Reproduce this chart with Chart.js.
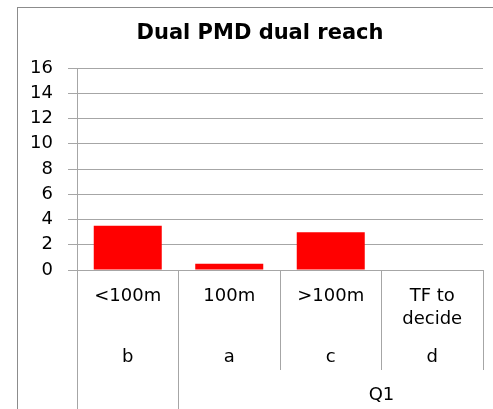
<!DOCTYPE html>
<html>
<head>
<meta charset="utf-8">
<script src="https://cdn.jsdelivr.net/npm/chart.js@4"></script>
<style>
  html, body { margin: 0; padding: 0; background: #fff; }
  #wrap { width: 493px; height: 409px; }
</style>
</head>
<body>
<div id="wrap"><canvas id="chart"></canvas></div>
<script>
// chart data
const categories = ['<100m', '100m', '>100m', ['TF to', 'decide']];
const subLabels = ['b', 'a', 'c', 'd'];
const groupLabel = 'Q1';
const values = [3.5, 0.5, 3, 0];
const yMax = 16;
const yStep = 2;
const titleText = 'Dual PMD dual reach';

const FONT = '"DejaVu Sans", Verdana, sans-serif';
const GRID = '#a6a6a6';

// draws the title, frame and the multi level category labels
const excelAxis = {
  id: 'excelAxis',
  afterDraw(chart) {
    const ctx = chart.ctx;
    const x = chart.scales.x;
    const area = chart.chartArea;
    const w = (area.right - area.left) / categories.length;

    ctx.save();
    // frame (left + top)
    ctx.fillStyle = '#8c8c8c';
    ctx.fillRect(17, 7, 1, chart.height - 7);
    ctx.fillRect(17, 7, chart.width - 17, 1);

    // long dividers under the first two categories
    ctx.fillStyle = GRID;
    [0, 1].forEach(i => {
      const px = Math.round(x.getPixelForValue(i) - w / 2 - 0.5);
      ctx.fillRect(px, area.bottom + 100, 1, chart.height - area.bottom - 100);
    });

    // title
    ctx.fillStyle = '#000';
    ctx.font = 'bold 21px ' + FONT;
    ctx.textAlign = 'center';
    ctx.textBaseline = 'middle';
    ctx.fillText(titleText, 260, 34);

    // category labels
    ctx.font = '18px ' + FONT;
    categories.forEach((lab, i) => {
      const cx = x.getPixelForValue(i);
      const lines = Array.isArray(lab) ? lab : [lab];
      lines.forEach((ln, k) => ctx.fillText(ln, cx, area.bottom + 26 + k * 23));
      ctx.fillText(subLabels[i], cx, area.bottom + 87);
    });

    // group label
    const edge23 = x.getPixelForValue(2) + w / 2;
    ctx.fillText(groupLabel, edge23, area.bottom + 125);
    ctx.restore();
  }
};

new Chart(document.getElementById('chart'), {
  type: 'bar',
  data: {
    labels: categories,
    datasets: [{
      data: values,
      backgroundColor: '#ff0000',
      borderWidth: 0,
      categoryPercentage: 1,
      barPercentage: 0.67
    }]
  },
  options: {
    responsive: true,
    maintainAspectRatio: false,
    animation: false,
    layout: { padding: { left: 17, right: 10, top: 68, bottom: 0 } },
    plugins: {
      legend: { display: false },
      title: { display: false },
      tooltip: { enabled: false }
    },
    scales: {
      x: {
        grid: { offset: true, drawOnChartArea: false, color: GRID, tickLength: 100 },
        border: { color: GRID },
        ticks: { display: false },
        afterFit(scale) { scale.height = 139; }
      },
      y: {
        min: 0,
        max: yMax,
        ticks: {
          stepSize: yStep,
          padding: 15,
          color: '#000',
          font: { family: FONT, size: 18 }
        },
        grid: { color: GRID, tickLength: 9 },
        border: { color: GRID },
        afterFit(scale) { scale.width = 60; }
      }
    }
  },
  plugins: [excelAxis]
});
</script>
</body>
</html>
